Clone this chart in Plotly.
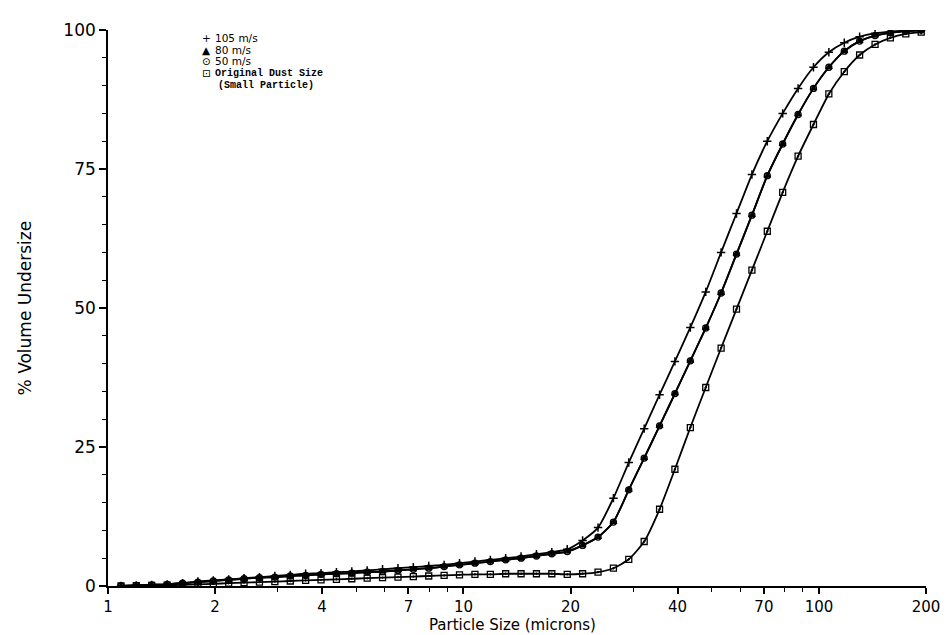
import plotly.graph_objects as go

# Particle size classes (microns)
size_um = [1.088, 1.201, 1.327, 1.467, 1.621, 1.790, 1.978, 2.185, 2.414, 2.667,
           2.947, 3.256, 3.597, 3.974, 4.391, 4.851, 5.358, 5.920, 6.541, 7.226,
           7.984, 8.821, 9.745, 10.77, 11.90, 13.14, 14.52, 16.04, 17.72, 19.58,
           21.63, 23.90, 26.41, 29.17, 32.23, 35.61, 39.33, 43.46, 48.02, 53.05,
           58.61, 64.76, 71.55, 79.05, 87.34, 96.49, 106.6, 117.8, 130.1, 143.8,
           158.8, 175.5, 193.9]

v105 = [0, 0.1, 0.2, 0.3, 0.5, 0.8, 1.0, 1.2, 1.4, 1.6,
        1.8, 2.0, 2.2, 2.3, 2.5, 2.6, 2.8, 3.0, 3.2, 3.4,
        3.6, 3.8, 4.1, 4.4, 4.7, 5.0, 5.3, 5.7, 6.1, 6.6,
        8.2, 10.5, 15.8, 22.2, 28.3, 34.4, 40.4, 46.5, 52.9, 60.0,
        67.0, 74.0, 80.0, 85.0, 89.5, 93.3, 96.0, 97.7, 98.8, 99.4,
        99.7, 99.9, 100]

v80 = [0, 0.1, 0.2, 0.3, 0.5, 0.7, 0.9, 1.1, 1.3, 1.5,
       1.6, 1.8, 1.9, 2.1, 2.2, 2.3, 2.5, 2.6, 2.8, 3.0,
       3.2, 3.5, 3.8, 4.1, 4.4, 4.7, 5.0, 5.4, 5.8, 6.2,
       7.3, 8.8, 11.5, 17.3, 23.0, 28.8, 34.6, 40.5, 46.4, 52.7,
       59.7, 66.7, 73.8, 79.5, 84.8, 89.5, 93.3, 96.2, 98.0, 99.0,
       99.5, 99.8, 100]

v50 = [0, 0.1, 0.2, 0.3, 0.5, 0.7, 0.9, 1.1, 1.3, 1.5,
       1.6, 1.8, 1.9, 2.1, 2.2, 2.3, 2.5, 2.6, 2.8, 3.0,
       3.2, 3.5, 3.8, 4.1, 4.4, 4.7, 5.0, 5.4, 5.8, 6.2,
       7.3, 8.8, 11.5, 17.3, 23.0, 28.8, 34.6, 40.5, 46.4, 52.7,
       59.7, 66.7, 73.8, 79.5, 84.8, 89.5, 93.3, 96.2, 98.0, 99.0,
       99.5, 99.8, 100]

v_orig = [0, 0.05, 0.1, 0.15, 0.2, 0.3, 0.4, 0.5, 0.6, 0.7,
          0.8, 0.9, 1.0, 1.1, 1.2, 1.3, 1.4, 1.5, 1.6, 1.7,
          1.8, 1.9, 2.0, 2.1, 2.1, 2.2, 2.2, 2.2, 2.2, 2.1,
          2.2, 2.5, 3.2, 4.8, 8.0, 13.8, 21.0, 28.5, 35.7, 42.8,
          49.8, 56.8, 63.8, 70.8, 77.3, 83.0, 88.5, 92.5, 95.5, 97.4,
          98.6, 99.3, 99.6]

x_ticks = [1, 2, 4, 7, 10, 20, 40, 70, 100, 200]
x_minor = [3, 5, 6, 8, 9, 30, 50, 60, 80, 90]
y_ticks = [0, 25, 50, 75, 100]

legend_symbols = ["+", "▲", "⊙", "⊡"]
legend_labels = ["105 m/s", "80 m/s", "50 m/s"]
orig_label = ["Original Dust Size", "(Small Particle)"]

fig = go.Figure()

series = [
    (v_orig, "square-open-dot", 6, 1.3),
    (v50, "circle-open-dot", 6, 1.3),
    (v80, "triangle-up", 6, 1.0),
    (v105, "cross-thin", 6, 1.5),
]
for vals, sym, sz, lw in series:
    fig.add_trace(go.Scatter(
        x=size_um, y=vals, mode="lines+markers",
        line=dict(color="black", width=1.8, shape="spline", smoothing=0.6),
        marker=dict(symbol=sym, size=sz, color="black",
                    line=dict(color="black", width=lw)),
        showlegend=False, hoverinfo="skip"))

# the page body adds an 8px margin, so the figure is sized to fit the window
W, H = 944, 627
L, R, T, B = 100, 22, 12, 49
pw, ph = W - L - R, H - T - B

def px(xp):
    return (xp - L) / pw

def py(yp):
    return (H - B - yp) / ph

ann = []
rows = [20, 32, 44]
for s, lab, yy in zip(legend_symbols[:3], legend_labels, rows):
    ann.append(dict(x=px(199), y=py(yy), xref="paper", yref="paper", text=s,
                    showarrow=False, xanchor="center", yanchor="middle", borderpad=0,
                    font=dict(family="DejaVu Sans", size=10.5, color="black")))
    ann.append(dict(x=px(207), y=py(yy), xref="paper", yref="paper", text=lab,
                    showarrow=False, xanchor="left", yanchor="middle", borderpad=0,
                    font=dict(family="DejaVu Sans", size=10.5, color="black")))
ann.append(dict(x=px(199), y=py(56), xref="paper", yref="paper", text=legend_symbols[3],
                showarrow=False, xanchor="center", yanchor="middle", borderpad=0,
                font=dict(family="DejaVu Sans", size=10.5, color="black")))
ann.append(dict(x=px(207), y=py(56), xref="paper", yref="paper",
                text="<b>" + orig_label[0] + "</b>",
                showarrow=False, xanchor="left", yanchor="middle", borderpad=0,
                font=dict(family="Liberation Mono", size=10, color="black")))
ann.append(dict(x=px(210), y=py(68), xref="paper", yref="paper",
                text="<b>" + orig_label[1] + "</b>",
                showarrow=False, xanchor="left", yanchor="middle", borderpad=0,
                font=dict(family="Liberation Mono", size=10, color="black")))

ann.append(dict(x=px(506), y=py(618), xref="paper", yref="paper",
                text="Particle Size (microns)", showarrow=False,
                xanchor="center", yanchor="middle", borderpad=0,
                font=dict(family="DejaVu Sans", size=15, color="black")))
ann.append(dict(x=px(17), y=0.5, xref="paper", yref="paper",
                text="% Volume Undersize", showarrow=False, textangle=-90,
                xanchor="center", yanchor="middle",
                font=dict(family="DejaVu Sans", size=17, color="black")))

fig.update_layout(
    width=W, height=H,
    margin=dict(l=L, r=R, t=T, b=B, pad=0),
    paper_bgcolor="white", plot_bgcolor="white",
    annotations=ann,
    xaxis=dict(type="log", range=[0, 2.30103], showgrid=False, zeroline=False,
               showline=True, linecolor="black", linewidth=1.6,
               tickmode="array", tickvals=x_ticks, ticktext=[str(t) for t in x_ticks],
               ticks="outside", ticklen=6, tickwidth=1.5, tickcolor="black",
               tickfont=dict(family="DejaVu Sans", size=15, color="black"),
               minor=dict(tickmode="array", tickvals=x_minor, ticks="outside",
                          ticklen=4, tickwidth=1.3, tickcolor="black", showgrid=False)),
    yaxis=dict(range=[0, 100], showgrid=False, zeroline=False,
               showline=True, linecolor="black", linewidth=1.6,
               tickmode="array", tickvals=y_ticks, ticktext=[str(t) for t in y_ticks],
               ticks="outside", ticklen=7, tickwidth=1.5, tickcolor="black",
               tickfont=dict(family="DejaVu Sans", size=17, color="black"),
               minor=dict(dtick=5, ticks="outside", ticklen=4, tickwidth=1.3,
                          tickcolor="black", showgrid=False)),
)

fig.write_html("out.html")
